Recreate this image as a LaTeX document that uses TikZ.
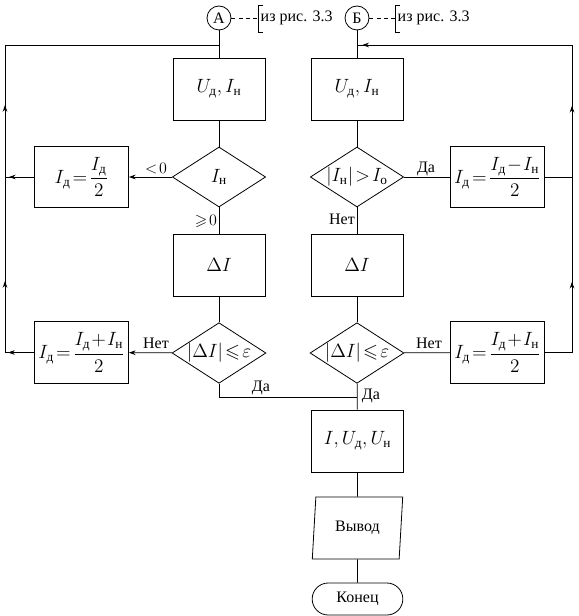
\documentclass[tikz,border=0pt]{standalone}
\usepackage{amsmath,amssymb}
\usepackage{fontspec}
\setmainfont{Liberation Serif}
\usetikzlibrary{shapes.geometric,arrows.meta,decorations.markings}

\newcommand{\Idd}{I_{\text{д}}}
\newcommand{\Inn}{I_{\text{н}}}
\newcommand{\Udd}{U_{\text{д}}}
\newcommand{\Unn}{U_{\text{н}}}

\tikzset{
  blk/.style={draw, minimum width=69pt, minimum height=46.5pt, inner sep=0pt, font=\Large},
  side/.style={draw, minimum width=70.5pt, minimum height=46pt, inner sep=0pt, font=\Large},
  dec/.style={draw, diamond, shape aspect=1.55, minimum width=70pt, minimum height=45pt, inner sep=0pt, font=\Large},
  con/.style={draw, circle, minimum size=18pt, inner sep=0pt, font=\large},
  lbl/.style={font=\large, inner sep=1pt},
  tipat/.style={postaction={decorate, decoration={markings,
    mark=at position #1 with {\arrow{Stealth[length=5pt,width=3.5pt]}}}}},
}

\begin{document}
\begin{tikzpicture}[x=0.75pt, y=-0.75pt, line width=0.6pt, >={Stealth[length=5pt,width=3.5pt]}]
\useasboundingbox (0,0) rectangle (578,616);

% entry points
\node[con] (A) at (219,18) {А};
\node[con] (B) at (357,18) {Б};
\draw[dash pattern=on 3pt off 2.5pt] (A.east) -- (258,18);
\draw (263,5) -| (258,32) -- (263,32);
\node[lbl, anchor=west] (refA) at (259,18) {из рис. 3.3};
\draw[dash pattern=on 3pt off 2.5pt] (B.east) -- (395,18);
\draw (400,5) -| (395,32) -- (400,32);
\node[lbl, anchor=west] (refB) at (396,18) {из рис. 3.3};

% left column
\node[blk] (u1) at (219,89) {$\Udd, \Inn$};
\node[dec] (d1) at (219,177) {$\Inn$};
\node[side] (s1) at (81.5,177) {$\Idd\!=\!\dfrac{\Idd}{2}$};
\node[blk] (dI1) at (219,265) {$\Delta I$};
\node[dec] (e1) at (219,353) {$|\Delta I|\!\leqslant\!\varepsilon$};
\node[side] (s3) at (81.5,352.5) {$\Idd\!=\!\dfrac{\Idd\!+\!\Inn}{2}$};

% right column
\node[blk] (u2) at (357,89) {$\Udd, \Inn$};
\node[dec] (d2) at (357,177) {$|\Inn|\!>\!I_{\text{о}}$};
\node[side, minimum width=71pt] (s2) at (497.5,177) {$\Idd\!=\!\dfrac{\Idd\!-\!\Inn}{2}$};
\node[blk] (dI2) at (357,265) {$\Delta I$};
\node[dec] (e2) at (357,353) {$|\Delta I|\!\leqslant\!\varepsilon$};
\node[side, minimum width=71pt] (s4) at (497.5,352.5) {$\Idd\!=\!\dfrac{\Idd\!+\!\Inn}{2}$};

% output
\node[blk] (res) at (357.5,441) {$I, \Udd, \Unn$};
\node[draw, trapezium, trapezium left angle=82, trapezium right angle=98,
  trapezium stretches=true, minimum width=68pt, minimum height=46.5pt,
  inner sep=0pt, font=\large] (vyv) at (357.5,528) {Вывод};
\node[draw, rounded corners=12pt, minimum width=68pt, minimum height=24pt,
  inner sep=0pt, font=\large] (fin) at (357.5,599) {Конец};

\coordinate (jl) at (219,45);
\coordinate (jr) at (357,45);
\coordinate (jd) at (357,397);

% left branch
\draw (A) -- (u1);
\draw (u1) -- (d1);
\draw[->] (d1) -- (s1);
\draw (d1) -- (dI1);
\draw (dI1) -- (e1);
\draw[->] (e1) -- (s3);
\draw (e1.south) |- (jd);
\draw[tipat=-3pt] (s1.west) -- (5,177);
\draw[tipat=19.5pt, tipat=75.4pt, tipat=207.4pt] (s3.west) -- (5,352.5) -- (5,45) -- (jl);

% right branch
\draw (B) -- (u2);
\draw (u2) -- (d2);
\draw (d2) -- (s2);
\draw (d2) -- (dI2);
\draw (dI2) -- (e2);
\draw (e2) -- (s4);
\draw (s2.east) -- (572,177);
\draw[tipat=73.1pt, tipat=205.1pt, tipat=-4pt] (s4.east) -- (572,352.5) -- (572,45) -- (jr);

% to output
\draw (e2) -- (res);
\draw (res) -- (vyv);
\draw (vyv) -- (fin);

% branch labels
\node[lbl] (l1) at (156,169) {$<\!0$};
\node[lbl] (l2) at (206,221) {$\geqslant\!0$};
\node[lbl] (l3) at (426,169) {Да};
\node[lbl] (l4) at (342,219) {Нет};
\node[lbl] (l5) at (156,343) {Нет};
\node[lbl] (l6) at (429,343) {Нет};
\node[lbl] (l7) at (261,388) {Да};
\node[lbl] (l8) at (371,396) {Да};
\end{tikzpicture}
\end{document}
